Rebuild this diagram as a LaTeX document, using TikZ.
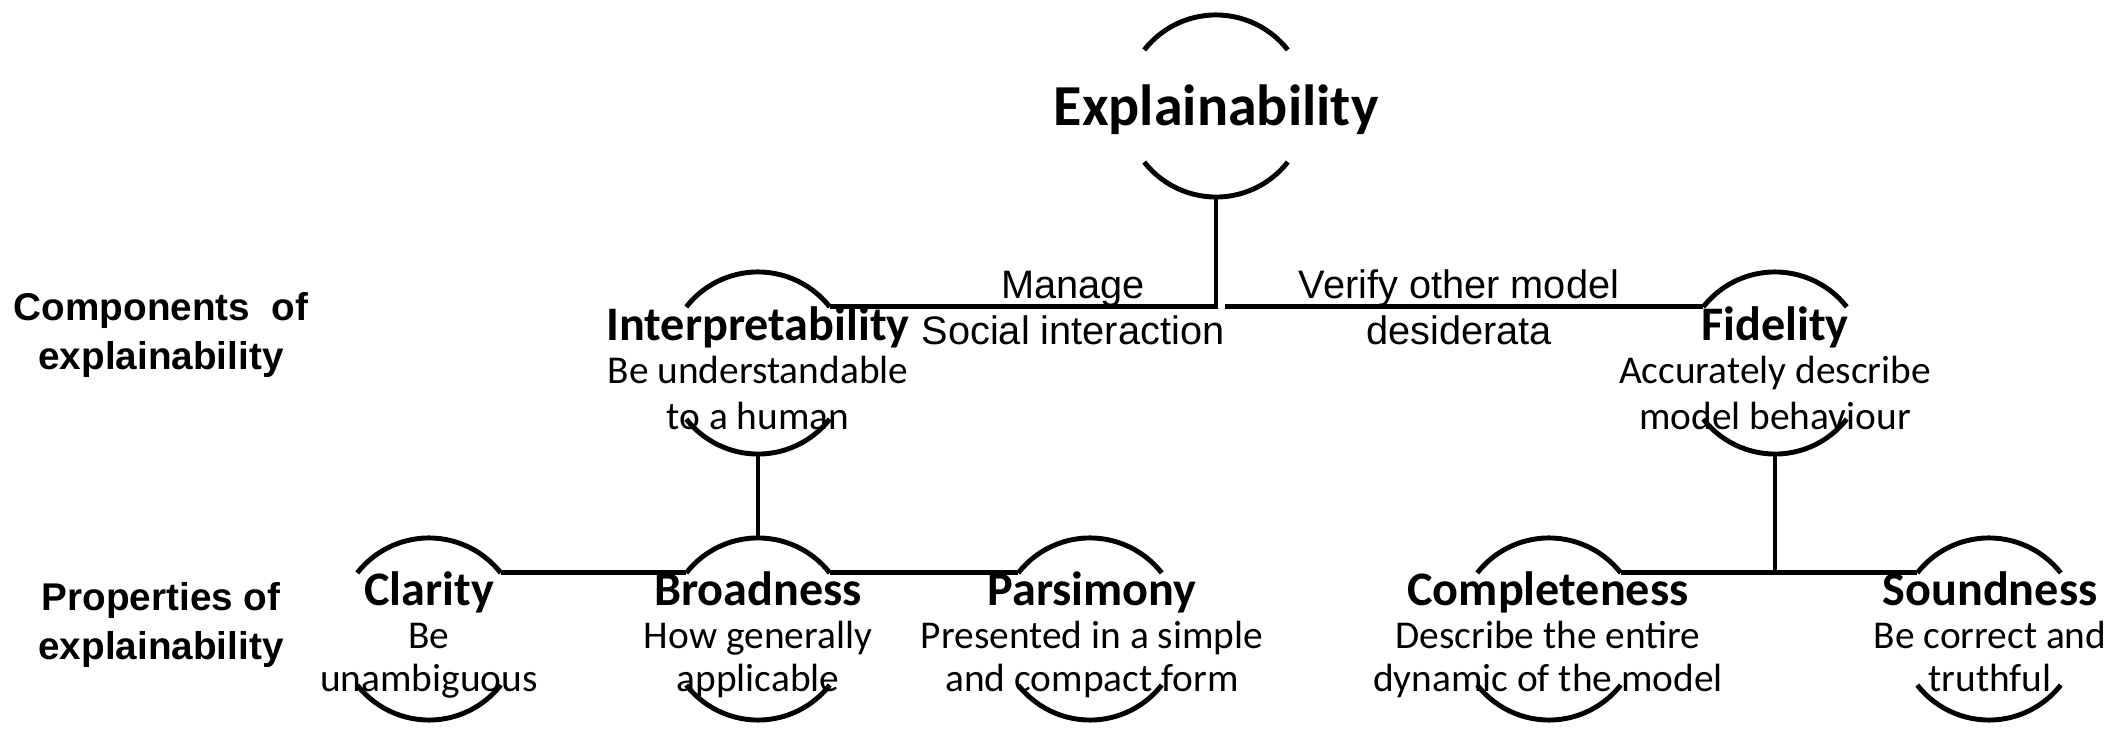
\documentclass[tikz,border=0pt]{standalone}
\usepackage{fontspec}
\setmainfont{Carlito}
\newfontfamily\arialfont{Liberation Sans}
\usetikzlibrary{calc}
\newcommand\ringarcs[1]{%
  \draw[conn] (#1.38) arc[start angle=38,end angle=142,radius=0.91cm];
  \draw[conn] (#1.218) arc[start angle=218,end angle=322,radius=0.91cm];}
\begin{document}
\begin{tikzpicture}[x=0.01cm,y=0.01cm,
  ring/.style={circle, minimum size=1.82cm, inner sep=0pt, outer sep=0pt, draw=none},
  conn/.style={line width=1.4pt},
  bigtitle/.style={font=\bfseries\fontsize{16.5}{20}\selectfont, inner sep=0pt, text height=0.7em, text depth=0.22em},
  ttl/.style={font=\bfseries\fontsize{13.7}{16}\selectfont, inner sep=0pt, text height=0.7em, text depth=0.22em},
  desc/.style={font=\fontsize{11.2}{12.5}\selectfont, inner sep=0pt, text height=0.7em, text depth=0.22em},
  lbl/.style={font=\arialfont\fontsize{11.3}{13}\selectfont, inner sep=0pt, text height=0.72em, text depth=0.2em},
  side/.style={font=\arialfont\bfseries\fontsize{11}{13.9}\selectfont, align=center, inner sep=0pt}
]
\useasboundingbox (0,0) rectangle (2126,730);

% rings
\node[ring] (E) at (1216,624) {};
\node[ring] (I) at (758,367) {};
\node[ring] (F) at (1775,367) {};
\node[ring] (C) at (429,101) {};
\node[ring] (B) at (758,101) {};
\node[ring] (P) at (1090,101) {};
\node[ring] (Co) at (1549,101) {};
\node[ring] (S) at (1989,101) {};
\ringarcs{E}\ringarcs{I}\ringarcs{F}\ringarcs{C}\ringarcs{B}\ringarcs{P}\ringarcs{Co}\ringarcs{S}

% connectors
\coordinate (jTop) at (E.south |- I.38);
\coordinate (jTopR) at ($(jTop)+(9,0)$);
\draw[conn] (I.38) -- (jTop) -- (E.south);
\draw[conn] (jTopR) -- (F.142);
\draw[conn] (C.38) -- (B.142);
\draw[conn] (B.38) -- (P.142);
\draw[conn] (I.south) -- (B.north);
\coordinate (jRight) at (F.south |- Co.38);
\draw[conn] (Co.38) -- (S.142);
\draw[conn] (F.south) -- (jRight);

% texts
\node[bigtitle] (tE) at (1216,613) {Explainability};

\node[ttl] (tI) at (758,398) {Interpretability};
\node[desc] (dI1) at (758,355) {Be understandable};
\node[desc] (dI2) at (758,309) {to a human};

\node[ttl] (tF) at (1775,398) {Fidelity};
\node[desc] (dF1) at (1775,355) {Accurately describe};
\node[desc] (dF2) at (1775,309) {model behaviour};

\node[ttl] (tC) at (429,133) {Clarity};
\node[desc] (dC1) at (429,90) {Be};
\node[desc] (dC2) at (429,47) {unambiguous};

\node[ttl] (tB) at (758,133) {Broadness};
\node[desc] (dB1) at (758,90) {How generally};
\node[desc] (dB2) at (758,47) {applicable};

\node[ttl] (tP) at (1092,133) {Parsimony};
\node[desc] (dP1) at (1092,90) {Presented in a simple};
\node[desc] (dP2) at (1092,47) {and compact form};

\node[ttl] (tCo) at (1548,133) {Completeness};
\node[desc] (dCo1) at (1548,90) {Describe the entire};
\node[desc] (dCo2) at (1548,47) {dynamic of the model};

\node[ttl] (tS) at (1990,133) {Soundness};
\node[desc] (dS1) at (1990,90) {Be correct and};
\node[desc] (dS2) at (1990,47) {truthful};

% edge labels
\node[lbl] (lM1) at (1073,441) {Manage};
\node[lbl] (lM2) at (1073,395) {Social interaction};
\node[lbl] (lV1) at (1459,441) {Verify other model};
\node[lbl] (lV2) at (1459,395) {desiderata};

% side labels
\node[side] (sComp) at (161,395) {Components\ \ of\\explainability};
\node[side] (sProp) at (161,105) {Properties of\\explainability};
\end{tikzpicture}
\end{document}
